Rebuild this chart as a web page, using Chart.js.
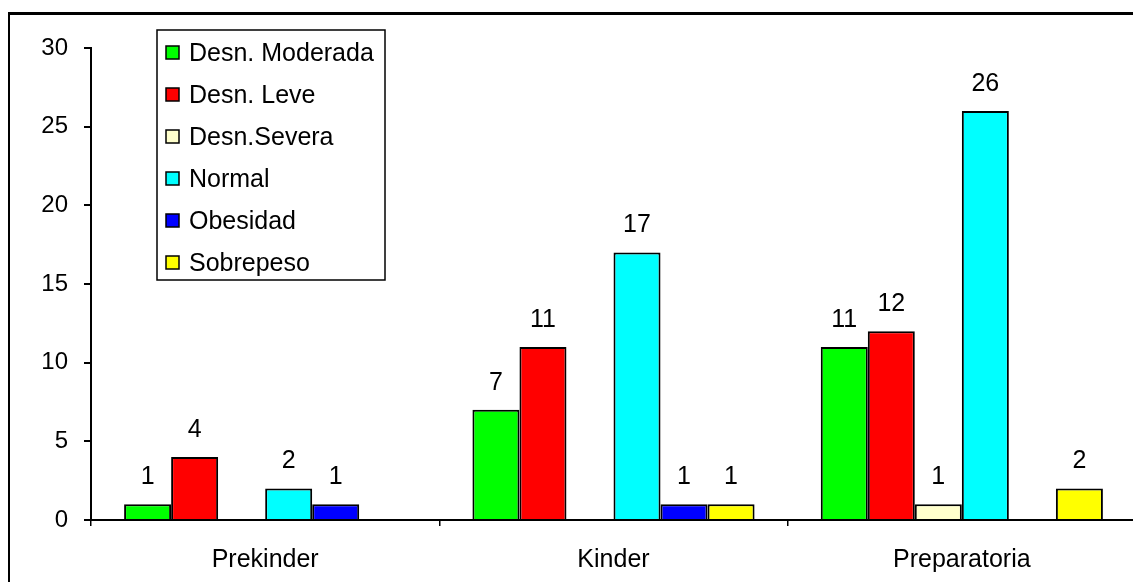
<!DOCTYPE html>
<html lang="es">
<head>
    <meta charset="UTF-8">
    <title>Estado nutricional por grado</title>
    <style>
        html, body {
            margin: 0;
            padding: 0;
            background: #fff;
            overflow: hidden;
            width: 1133px;
            height: 582px;
        }
        .frame {
            position: absolute;
            left: 8px;
            top: 12px;
            width: 1200px;
            height: 700px;
            border-left: 2px solid #000;
            border-top: 3px solid #000;
        }
        #chart {
            position: absolute;
            left: 0;
            top: 0;
        }
    </style>
</head>
<body>
    <div class="frame"></div>
    <canvas id="chart" width="1140" height="582"></canvas>

    <script src="https://cdn.jsdelivr.net/npm/chart.js"></script>
    <script>
        const categories = ['Prekinder', 'Kinder', 'Preparatoria'];
        const seriesNames = ['Desn. Moderada', 'Desn. Leve', 'Desn.Severa', 'Normal', 'Obesidad', 'Sobrepeso'];
        const seriesColors = ['#00ff00', '#ff0000', '#ffffcc', '#00ffff', '#0000ff', '#ffff00'];

        const moderada = [1, 7, 11];
        const leve = [4, 11, 12];
        const severa = [0, 0, 1];
        const normal = [2, 17, 26];
        const obesidad = [1, 1, 0];
        const sobrepeso = [0, 1, 2];

        const yTicks = [0, 5, 10, 15, 20, 25, 30];

        const FONT = 'Arial, "Liberation Sans", sans-serif';
        const values = [moderada, leve, severa, normal, obesidad, sobrepeso];

        // value labels above each non-zero bar
        const barLabels = {
            id: 'barLabels',
            afterDatasetsDraw(chart) {
                const ctx = chart.ctx;
                ctx.save();
                ctx.fillStyle = '#000';
                ctx.font = '25px ' + FONT;
                ctx.textAlign = 'center';
                ctx.textBaseline = 'middle';
                chart.data.datasets.forEach((ds, i) => {
                    chart.getDatasetMeta(i).data.forEach((bar, j) => {
                        const v = ds.data[j];
                        if (!v) return;
                        ctx.fillText(String(v), bar.x, bar.y - 27);
                    });
                });
                ctx.restore();
            }
        };

        // boxed legend sitting inside the plot, like the old spreadsheet chart
        const boxLegend = {
            id: 'boxLegend',
            afterDraw(chart) {
                const ctx = chart.ctx;
                const left = 157, top = 30, w = 228, h = 250;
                ctx.save();
                ctx.fillStyle = '#fff';
                ctx.fillRect(left, top, w, h);
                ctx.strokeStyle = '#000';
                ctx.lineWidth = 1.5;
                ctx.strokeRect(left, top, w, h);
                ctx.font = '25px ' + FONT;
                ctx.textBaseline = 'middle';
                chart.data.datasets.forEach((ds, i) => {
                    const cy = top + 22 + i * 42;
                    ctx.fillStyle = ds.backgroundColor;
                    ctx.fillRect(166, cy - 6, 13, 13);
                    ctx.lineWidth = 1.5;
                    ctx.strokeRect(166, cy - 6, 13, 13);
                    ctx.fillStyle = '#000';
                    ctx.fillText(ds.label, 189, cy + 2);
                });
                ctx.restore();
            }
        };

        new Chart(document.getElementById('chart'), {
            type: 'bar',
            data: {
                labels: categories,
                datasets: seriesNames.map((name, i) => ({
                    label: name,
                    data: values[i],
                    backgroundColor: seriesColors[i],
                    borderColor: '#000',
                    borderWidth: 2,
                    categoryPercentage: 0.81,
                    barPercentage: 1.0
                }))
            },
            options: {
                responsive: false,
                animation: false,
                layout: { padding: { left: 0, top: 48, right: 4, bottom: 0 } },
                plugins: {
                    legend: { display: false },
                    tooltip: { enabled: false }
                },
                scales: {
                    x: {
                        grid: {
                            display: true,
                            drawOnChartArea: false,
                            drawTicks: true,
                            tickLength: 6,
                            color: '#000',
                            lineWidth: 1.5
                        },
                        border: { display: true, color: '#000', width: 2 },
                        ticks: {
                            color: '#000',
                            font: { family: FONT, size: 25 },
                            padding: 19,
                            maxRotation: 0
                        },
                        afterFit(scale) { scale.height = 62; }
                    },
                    y: {
                        min: 0,
                        max: 30,
                        afterBuildTicks(scale) {
                            scale.ticks = yTicks.map(v => ({ value: v }));
                        },
                        grid: {
                            display: true,
                            drawOnChartArea: false,
                            drawTicks: true,
                            tickLength: 7,
                            color: '#000',
                            lineWidth: 2
                        },
                        border: { display: true, color: '#000', width: 2 },
                        ticks: {
                            color: '#000',
                            font: { family: FONT, size: 24 },
                            padding: 16
                        },
                        afterFit(scale) { scale.width = 91; }
                    }
                }
            },
            plugins: [barLabels, boxLegend]
        });
    </script>
</body>
</html>
